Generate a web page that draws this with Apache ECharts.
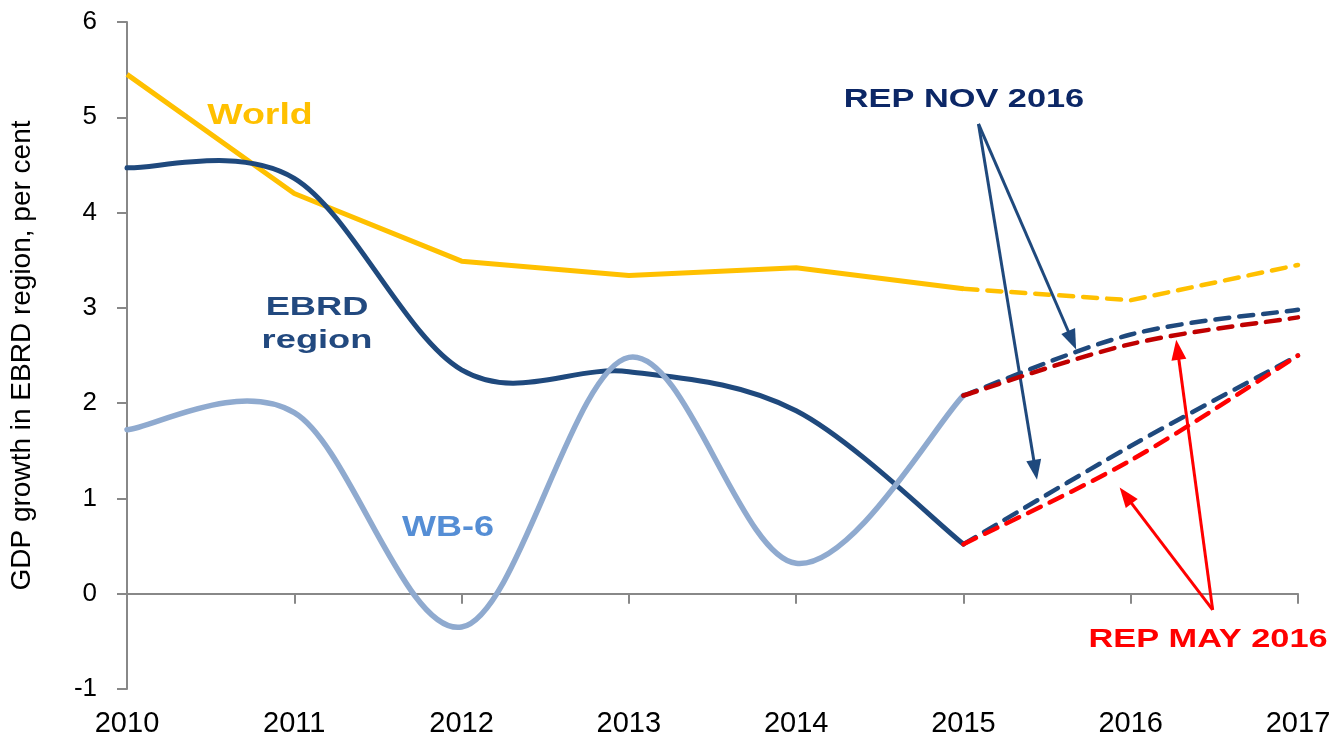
<!DOCTYPE html>
<html>
<head>
<meta charset="utf-8">
<script src="https://cdn.jsdelivr.net/npm/echarts@6/dist/echarts.min.js"></script>
<style>
html,body{margin:0;padding:0;background:#fff;}
#chart{width:1340px;height:738px;}
</style>
</head>
<body>
<div id="chart"></div>
<script>
// ---- data ----
const years = [2010, 2011, 2012, 2013, 2014, 2015, 2016, 2017];
const histYears = [2010, 2011, 2012, 2013, 2014, 2015];
const fcYears = [2015, 2016, 2017];

const worldHist = [5.45, 4.20, 3.49, 3.34, 3.42, 3.20];
const worldFc = [3.20, 3.08, 3.45];

const ebrdHist = [4.47, 4.36, 2.35, 2.33, 1.92, 0.52];
const wb6Hist = [1.72, 1.90, -0.35, 2.48, 0.32, 2.08];

const ebrdNov = [0.52, 1.55, 2.50];
const ebrdMay = [0.52, 1.40, 2.50];
const wb6Nov = [2.08, 2.72, 2.98];
const wb6May = [2.08, 2.62, 2.90];

const yTicks = [-1, 0, 1, 2, 3, 4, 5, 6];

// annotation arrows (data coordinates: [year, value])
const novArrows = [
  [[2015.09, 4.93], [2015.65, 2.66]],
  [[2015.09, 4.93], [2015.43, 1.30]]
];
const mayArrows = [
  [[2016.49, -0.17], [2016.28, 2.56]],
  [[2016.49, -0.17], [2015.97, 1.03]]
];

const pair = (xs, ys) => xs.map((x, i) => [x, ys[i]]);

const chart = echarts.init(document.getElementById('chart'));
const FONT = '"Liberation Sans", Arial, sans-serif';

// Excel-like smoothed line (Catmull-Rom -> cubic Bezier), positioned via the axes' scales
function smoothSeries(name, xs, ys, color, width, dash, z) {
  return {
    name, type: 'custom', coordinateSystem: 'cartesian2d', z: z,
    data: pair(xs, ys),
    encode: { x: 0, y: 1 },
    silent: true,
    renderItem: function (params, api) {
      if (params.dataIndex !== 0) return null;
      const p = xs.map((x, i) => api.coord([x, ys[i]]));
      const n = p.length;
      let d = 'M' + p[0][0] + ' ' + p[0][1];
      for (let i = 0; i < n - 1; i++) {
        const p0 = p[i - 1] || p[i];
        const p1 = p[i];
        const p2 = p[i + 1];
        const p3 = p[i + 2] || p[i + 1];
        const c1 = [p1[0] + (p2[0] - p0[0]) / 6, p1[1] + (p2[1] - p0[1]) / 6];
        const c2 = [p2[0] - (p3[0] - p1[0]) / 6, p2[1] - (p3[1] - p1[1]) / 6];
        d += ' C' + c1[0] + ' ' + c1[1] + ' ' + c2[0] + ' ' + c2[1] + ' ' + p2[0] + ' ' + p2[1];
      }
      return {
        type: 'path',
        shape: { pathData: d },
        style: {
          fill: null, stroke: color, lineWidth: width,
          lineDash: dash || null, lineCap: 'round', lineJoin: 'round'
        }
      };
    }
  };
}

function arrowMark(arrs, color) {
  return {
    silent: true,
    symbol: ['none', 'triangle'],
    symbolSize: [15, 20],
    label: { show: false },
    itemStyle: { color },
    lineStyle: { color, width: 3, type: 'solid' },
    data: arrs.map(a => [{ coord: a[0] }, { coord: a[1] }])
  };
}

const DASH = [14, 10];

const option = {
  backgroundColor: '#fff',
  animation: false,
  grid: { left: 126, right: 42, top: 22, bottom: 46 },
  xAxis: [
    {
      type: 'value', min: 2010, max: 2017, interval: 1,
      axisLine: { onZero: true, lineStyle: { color: '#888', width: 2 } },
      axisTick: { show: true, length: 10, inside: false, lineStyle: { color: '#888', width: 2 } },
      axisLabel: { show: false },
      splitLine: { show: false }
    },
    {
      type: 'value', min: 2010, max: 2017, interval: 1, position: 'bottom',
      axisLine: { show: false, onZero: false },
      axisTick: { show: false },
      splitLine: { show: false },
      axisLabel: {
        show: true, color: '#000', fontSize: 29, fontFamily: FONT, margin: 20,
        formatter: v => years.includes(v) ? String(v) : ''
      }
    }
  ],
  yAxis: {
    type: 'value', min: yTicks[0], max: yTicks[yTicks.length - 1], interval: 1,
    name: 'GDP growth in EBRD region, per cent',
    nameLocation: 'middle', nameGap: 91, nameRotate: 90,
    nameTextStyle: { color: '#000', fontSize: 28, fontFamily: FONT },
    axisLine: { show: true, lineStyle: { color: '#888', width: 2 } },
    axisTick: { show: true, length: 10, lineStyle: { color: '#888', width: 2 } },
    axisLabel: { color: '#000', fontSize: 26, fontFamily: FONT, margin: 30 },
    splitLine: { show: false }
  },
  series: [
    {
      name: 'World', type: 'line', data: pair(histYears, worldHist), smooth: false,
      showSymbol: false, symbol: 'none', z: 3,
      lineStyle: { color: '#FFC000', width: 5 },
      markLine: arrowMark(novArrows, '#1F497D')
    },
    {
      name: 'World forecast', type: 'line', data: pair(fcYears, worldFc), smooth: false,
      showSymbol: false, symbol: 'none', z: 3,
      lineStyle: { color: '#FFC000', width: 4.5, type: DASH, cap: 'round', join: 'round' }
    },
    smoothSeries('EBRD region', histYears, ebrdHist, '#1F497D', 5, null, 4),
    smoothSeries('WB-6', histYears, wb6Hist, '#8FAACF', 5.5, null, 5),
    smoothSeries('EBRD region REP NOV 2016', fcYears, ebrdNov, '#1F497D', 4.5, DASH, 6),
    smoothSeries('WB-6 REP NOV 2016', fcYears, wb6Nov, '#1F497D', 4.5, DASH, 6),
    smoothSeries('EBRD region REP MAY 2016', fcYears, ebrdMay, '#FF0000', 4.5, DASH, 7),
    smoothSeries('WB-6 REP MAY 2016', fcYears, wb6May, '#C00000', 4.5, DASH, 7),
    {
      name: 'REP MAY 2016 arrows', type: 'line', data: [], z: 8,
      showSymbol: false, symbol: 'none',
      markLine: arrowMark(mayArrows, '#FF0000')
    }
  ],
  graphic: [
    { type: 'text', x: 260, y: 116, scaleX: 1.25, z: 10,
      style: { text: 'World', fill: '#FFC000', font: 'bold 30px ' + FONT, align: 'center', verticalAlign: 'middle' } },
    { type: 'text', x: 317, y: 308, scaleX: 1.45, z: 10,
      style: { text: 'EBRD', fill: '#22497F', font: 'bold 25px ' + FONT, align: 'center', verticalAlign: 'middle' } },
    { type: 'text', x: 317, y: 341, scaleX: 1.45, z: 10,
      style: { text: 'region', fill: '#22497F', font: 'bold 25px ' + FONT, align: 'center', verticalAlign: 'middle' } },
    { type: 'text', x: 448, y: 528, scaleX: 1.2, z: 10,
      style: { text: 'WB-6', fill: '#558ED5', font: 'bold 30px ' + FONT, align: 'center', verticalAlign: 'middle' } },
    { type: 'text', x: 964, y: 100, scaleX: 1.32, z: 10,
      style: { text: 'REP NOV 2016', fill: '#0C2766', font: 'bold 26px ' + FONT, align: 'center', verticalAlign: 'middle' } },
    { type: 'text', x: 1208, y: 640, scaleX: 1.32, z: 10,
      style: { text: 'REP MAY 2016', fill: '#FF0000', font: 'bold 26px ' + FONT, align: 'center', verticalAlign: 'middle' } }
  ]
};

chart.setOption(option);
</script>
</body>
</html>
